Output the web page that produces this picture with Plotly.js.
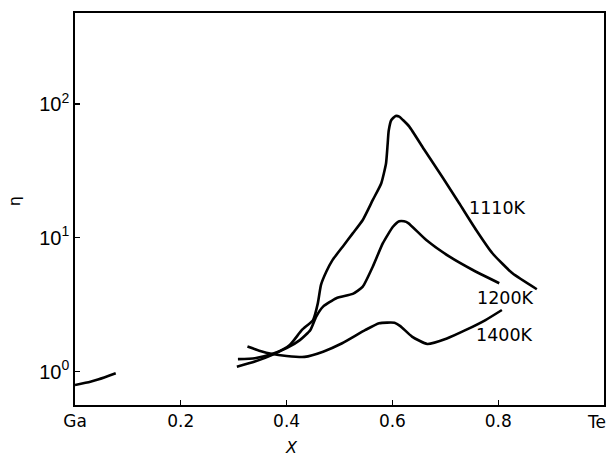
<!DOCTYPE html>
<html>
<head>
<meta charset="utf-8">
<script src="https://cdn.plot.ly/plotly-3.0.1.min.js"></script>
<style>
  html, body { margin: 0; padding: 0; background: #fff; }
  #chart { width: 609px; height: 459px; }
</style>
</head>
<body>
<div id="chart"></div>
<script>
// Viscosity-type quantity eta versus composition X across the Ga–Te system

// Ga-rich branch
const gaX   = [0.000, 0.029, 0.045, 0.077];
const gaEta = [0.795, 0.841, 0.877, 0.973];

// 1110 K isotherm
const x1110   = [0.306, 0.340, 0.374, 0.406, 0.429, 0.450, 0.459, 0.465, 0.475, 0.487,
                 0.506, 0.525, 0.544, 0.563, 0.579, 0.588, 0.591, 0.593, 0.598, 0.606,
                 0.613, 0.620, 0.632, 0.660, 0.695, 0.726, 0.758, 0.789, 0.827, 0.873];
const eta1110 = [1.09, 1.19, 1.34, 1.58, 2.05, 2.43, 3.24, 4.45, 5.58, 6.84,
                 8.59, 10.8, 13.6, 19.2, 25.6, 36.1, 50.1, 63.1, 75.9, 81.3,
                 80.4, 75.9, 67.8, 45.7, 28.2, 18.2, 11.5, 7.67, 5.43, 4.13];

// 1200 K isotherm
const x1200   = [0.308, 0.340, 0.371, 0.400, 0.425, 0.445, 0.456, 0.469, 0.494, 0.525,
                 0.544, 0.563, 0.582, 0.601, 0.613, 0.622, 0.630, 0.664, 0.708, 0.752, 0.802];
const eta1200 = [1.24, 1.26, 1.35, 1.50, 1.72, 2.05, 2.58, 3.06, 3.54, 3.81,
                 4.32, 6.10, 9.12, 12.1, 13.3, 13.3, 12.9, 9.64, 7.23, 5.75, 4.58];

// 1400 K isotherm
const x1400   = [0.326, 0.350, 0.371, 0.400, 0.434, 0.469, 0.505, 0.549, 0.575, 0.604,
                 0.615, 0.637, 0.666, 0.703, 0.739, 0.776, 0.807];
const eta1400 = [1.54, 1.43, 1.36, 1.31, 1.29, 1.41, 1.63, 2.05, 2.30, 2.32,
                 2.19, 1.83, 1.61, 1.77, 2.05, 2.43, 2.89];

// Curve labels
const labelText = ["1110K", "1200K", "1400K"];
const labelX    = [0.798, 0.813, 0.811];
const labelEta  = [16.6, 3.56, 1.88];

// Axis ticks (the Te end label sits just inside the right frame)
const xTickVals = [0, 0.2, 0.4, 0.6, 0.8];
const xTickText = ["Ga", "0.2", "0.4", "0.6", "0.8"];
const xEndLabel = "Te";
const yTickVals = [1, 10, 100];
const yTickText = ["10<sup>0</sup>", "10<sup>1</sup>", "10<sup>2</sup>"];

const lineStyle = { color: "#000", width: 2.6, shape: "spline", smoothing: 0.5 };

function curve(x, y) {
  return { x: x, y: y, type: "scatter", mode: "lines", line: lineStyle,
           hoverinfo: "skip", showlegend: false };
}

const data = [
  curve(gaX, gaEta),
  curve(x1110, eta1110),
  curve(x1200, eta1200),
  curve(x1400, eta1400)
];

const tickFont = { family: "DejaVu Sans", size: 17, color: "#000" };

const annotations = labelText.map((t, i) => ({
  x: labelX[i], y: Math.log10(labelEta[i]), xref: "x", yref: "y",
  text: t, showarrow: false,
  font: { family: "DejaVu Sans", size: 17.5, color: "#000" },
  xanchor: "center", yanchor: "middle"
}));

// Right-hand composition end label
annotations.push({
  xref: "paper", yref: "paper", x: 0.986, y: -0.0426,
  text: xEndLabel, showarrow: false, font: tickFont,
  xanchor: "center", yanchor: "middle"
});

// Axis titles
annotations.push({
  xref: "paper", yref: "paper", x: -0.115, y: 0.52,
  text: "η", textangle: -90, showarrow: false,
  font: { family: "DejaVu Sans", size: 16, color: "#000" },
  xanchor: "center", yanchor: "middle"
});
annotations.push({
  xref: "paper", yref: "paper", x: 0.409, y: -0.1378,
  text: "<i>X</i>", showarrow: false,
  font: { family: "DejaVu Sans", size: 16, color: "#000" },
  xanchor: "center", yanchor: "bottom"
});

const layout = {
  width: 609, height: 459,
  margin: { l: 75, r: 5, t: 13, b: 54 },
  paper_bgcolor: "#fff", plot_bgcolor: "#fff",
  showlegend: false,
  xaxis: {
    range: [0, 1.0],
    tickvals: xTickVals, ticktext: xTickText,
    ticks: "inside", ticklen: 5, tickwidth: 1.2, tickcolor: "#000",
    showgrid: false, zeroline: false,
    showline: true, linecolor: "#000", linewidth: 1.8, mirror: true,
    tickfont: tickFont
  },
  yaxis: {
    type: "log",
    range: [-0.249, 2.68],
    tickvals: yTickVals, ticktext: yTickText,
    ticks: "inside", ticklen: 5, tickwidth: 1.2, tickcolor: "#000",
    showgrid: false, zeroline: false,
    showline: true, linecolor: "#000", linewidth: 1.8, mirror: true,
    tickfont: { family: "Liberation Sans", size: 20, color: "#000" }
  },
  annotations: annotations
};

Plotly.newPlot("chart", data, layout, { staticPlot: true, displayModeBar: false });
</script>
</body>
</html>
